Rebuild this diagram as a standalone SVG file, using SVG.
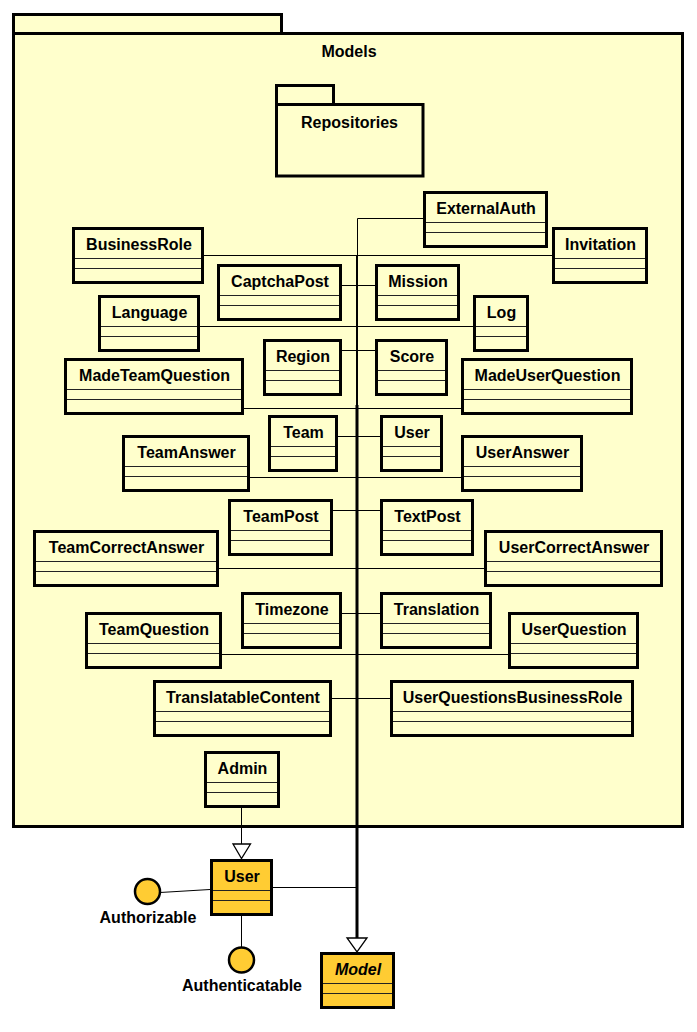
<svg xmlns="http://www.w3.org/2000/svg" width="697" height="1032" viewBox="0 0 697 1032">
<style>
.pkg{fill:#FFFFCC;stroke:#000;stroke-width:3}
.cls{fill:#FFFFCC;stroke:#000;stroke-width:3}
.ext{fill:#FFCC33;stroke:#000;stroke-width:3}
.sep{stroke:#222;stroke-width:1}
.t{font-family:"Liberation Sans",Arial,sans-serif;font-weight:bold;font-size:16px;text-anchor:middle;fill:#000}
.it{font-style:italic}
.c{fill:none;stroke:#000;stroke-width:1}
.tri{fill:#fff;stroke:#000;stroke-width:1.3}
.ifc{fill:#FFCC33;stroke:#000;stroke-width:2.5}
</style>
<rect width="697" height="1032" fill="#fff"/>
<g id="pkg-Models">
<rect class="pkg" x="13.5" y="14.5" width="268" height="19"/>
<rect class="pkg" x="13.5" y="33.5" width="669" height="793"/>
<text class="t" x="349" y="57">Models</text>
</g>
<g id="pkg-Repositories">
<rect class="pkg" x="276.5" y="85.5" width="57" height="19"/>
<rect class="pkg" x="276.5" y="104.5" width="146.5" height="71.5"/>
<text class="t" x="349.5" y="128">Repositories</text>
</g>
<g id="connectors">
<path class="c" d="M423,218.5H357.5V255"/>
<path class="c" d="M204,255.5H357 M552,255.5H357"/>
<path class="c" d="M342,285.5H357 M375,285.5H357"/>
<path class="c" d="M200,326.5H357 M473,326.5H357"/>
<path class="c" d="M342,350.5H357 M375,350.5H357"/>
<path class="c" d="M244,408.5H357 M461,408.5H357"/>
<path class="c" d="M338,436.5H357 M380,436.5H357"/>
<path class="c" d="M250,477.5H357 M461,477.5H357"/>
<path class="c" d="M333,510.5H357 M380,510.5H357"/>
<path class="c" d="M219,568.5H357 M484,568.5H357"/>
<path class="c" d="M342,613.5H357 M380,613.5H357"/>
<path class="c" d="M222,654.5H357 M508,654.5H357"/>
<path class="c" d="M332,698.5H357 M390,698.5H357"/>
<path class="c" d="M273,887.5H357"/>
<path d="M357,255V405" fill="none" stroke="#000" stroke-width="2"/>
<path d="M357,405V938" fill="none" stroke="#000" stroke-width="3"/>
<polygon class="tri" points="347,938 367,938 357,952"/>
<path class="c" d="M241.5,808V844"/>
<polygon class="tri" points="233,844 250.5,844 241.5,858.5"/>
<path class="c" d="M160,892.5L210,889.5"/>
<path class="c" d="M241.5,916V947.5"/>
</g>
<g id="ExternalAuth"><rect class="cls" x="424.5" y="192.5" width="122" height="54"/><path class="sep" d="M426,222.5H545M426,232.5H545"/><text class="t" x="486" y="214">ExternalAuth</text></g>
<g id="BusinessRole"><rect class="cls" x="73.5" y="228.5" width="129" height="54"/><path class="sep" d="M75,258.5H201M75,268.5H201"/><text class="t" x="139" y="250">BusinessRole</text></g>
<g id="Invitation"><rect class="cls" x="553.5" y="228.5" width="93" height="54"/><path class="sep" d="M555,258.5H645M555,268.5H645"/><text class="t" x="600.5" y="250">Invitation</text></g>
<g id="CaptchaPost"><rect class="cls" x="218.5" y="265.5" width="122" height="54"/><path class="sep" d="M220,295.5H339M220,305.5H339"/><text class="t" x="280" y="287">CaptchaPost</text></g>
<g id="Mission"><rect class="cls" x="376.5" y="265.5" width="82" height="54"/><path class="sep" d="M378,295.5H457M378,305.5H457"/><text class="t" x="418" y="287">Mission</text></g>
<g id="Language"><rect class="cls" x="99.5" y="296.5" width="99" height="54"/><path class="sep" d="M101,326.5H197M101,336.5H197"/><text class="t" x="149.5" y="318">Language</text></g>
<g id="Log"><rect class="cls" x="474.5" y="296.5" width="53" height="54"/><path class="sep" d="M476,326.5H526M476,336.5H526"/><text class="t" x="501.5" y="318">Log</text></g>
<g id="Region"><rect class="cls" x="264.5" y="340.5" width="76" height="54"/><path class="sep" d="M266,370.5H339M266,380.5H339"/><text class="t" x="303" y="362">Region</text></g>
<g id="Score"><rect class="cls" x="376.5" y="340.5" width="70" height="54"/><path class="sep" d="M378,370.5H445M378,380.5H445"/><text class="t" x="412" y="362">Score</text></g>
<g id="MadeTeamQuestion"><rect class="cls" x="65.5" y="359.5" width="177" height="54"/><path class="sep" d="M67,389.5H241M67,399.5H241"/><text class="t" x="154.5" y="381">MadeTeamQuestion</text></g>
<g id="MadeUserQuestion"><rect class="cls" x="462.5" y="359.5" width="169" height="54"/><path class="sep" d="M464,389.5H630M464,399.5H630"/><text class="t" x="547.5" y="381">MadeUserQuestion</text></g>
<g id="Team"><rect class="cls" x="269.5" y="416.5" width="67" height="54"/><path class="sep" d="M271,446.5H335M271,456.5H335"/><text class="t" x="303.5" y="438">Team</text></g>
<g id="UserInner"><rect class="cls" x="381.5" y="416.5" width="60" height="54"/><path class="sep" d="M383,446.5H440M383,456.5H440"/><text class="t" x="412" y="438">User</text></g>
<g id="TeamAnswer"><rect class="cls" x="123.5" y="436.5" width="125" height="54"/><path class="sep" d="M125,466.5H247M125,476.5H247"/><text class="t" x="186.5" y="458">TeamAnswer</text></g>
<g id="UserAnswer"><rect class="cls" x="462.5" y="436.5" width="119" height="54"/><path class="sep" d="M464,466.5H580M464,476.5H580"/><text class="t" x="522.5" y="458">UserAnswer</text></g>
<g id="TeamPost"><rect class="cls" x="229.5" y="500.5" width="102" height="54"/><path class="sep" d="M231,530.5H330M231,540.5H330"/><text class="t" x="281" y="522">TeamPost</text></g>
<g id="TextPost"><rect class="cls" x="381.5" y="500.5" width="91" height="54"/><path class="sep" d="M383,530.5H471M383,540.5H471"/><text class="t" x="427.5" y="522">TextPost</text></g>
<g id="TeamCorrectAnswer"><rect class="cls" x="34.5" y="531.5" width="183" height="54"/><path class="sep" d="M36,561.5H216M36,571.5H216"/><text class="t" x="126.5" y="553">TeamCorrectAnswer</text></g>
<g id="UserCorrectAnswer"><rect class="cls" x="485.5" y="531.5" width="176" height="54"/><path class="sep" d="M487,561.5H660M487,571.5H660"/><text class="t" x="574" y="553">UserCorrectAnswer</text></g>
<g id="Timezone"><rect class="cls" x="242.5" y="593.5" width="98" height="54"/><path class="sep" d="M244,623.5H339M244,633.5H339"/><text class="t" x="292" y="615">Timezone</text></g>
<g id="Translation"><rect class="cls" x="381.5" y="593.5" width="109" height="54"/><path class="sep" d="M383,623.5H489M383,633.5H489"/><text class="t" x="436.5" y="615">Translation</text></g>
<g id="TeamQuestion"><rect class="cls" x="86.5" y="613.5" width="134" height="54"/><path class="sep" d="M88,643.5H219M88,653.5H219"/><text class="t" x="154" y="635">TeamQuestion</text></g>
<g id="UserQuestion"><rect class="cls" x="509.5" y="613.5" width="128" height="54"/><path class="sep" d="M511,643.5H636M511,653.5H636"/><text class="t" x="574" y="635">UserQuestion</text></g>
<g id="TranslatableContent"><rect class="cls" x="154.5" y="681.5" width="176" height="54"/><path class="sep" d="M156,711.5H329M156,721.5H329"/><text class="t" x="243" y="703">TranslatableContent</text></g>
<g id="UserQuestionsBusinessRole"><rect class="cls" x="391.5" y="681.5" width="241" height="54"/><path class="sep" d="M393,711.5H631M393,721.5H631"/><text class="t" x="512.5" y="703">UserQuestionsBusinessRole</text></g>
<g id="Admin"><rect class="cls" x="205.5" y="752.5" width="73" height="54"/><path class="sep" d="M207,782.5H277M207,792.5H277"/><text class="t" x="242.5" y="774">Admin</text></g>
<g id="User"><rect class="ext" x="211.5" y="860.5" width="60" height="54"/><path class="sep" d="M213,890.5H270M213,900.5H270"/><text class="t" x="242" y="882">User</text></g>
<g id="Model"><rect class="ext" x="321.5" y="953.5" width="72" height="54"/><path class="sep" d="M323,983.5H392M323,993.5H392"/><text class="t it" x="358" y="975">Model</text></g>
<g id="Authorizable"><circle class="ifc" cx="147.5" cy="891.5" r="12.5"/><text class="t" x="148" y="922.5">Authorizable</text></g>
<g id="Authenticatable"><circle class="ifc" cx="241.5" cy="960" r="12.5"/><text class="t" x="242" y="990.5">Authenticatable</text></g>
</svg>
